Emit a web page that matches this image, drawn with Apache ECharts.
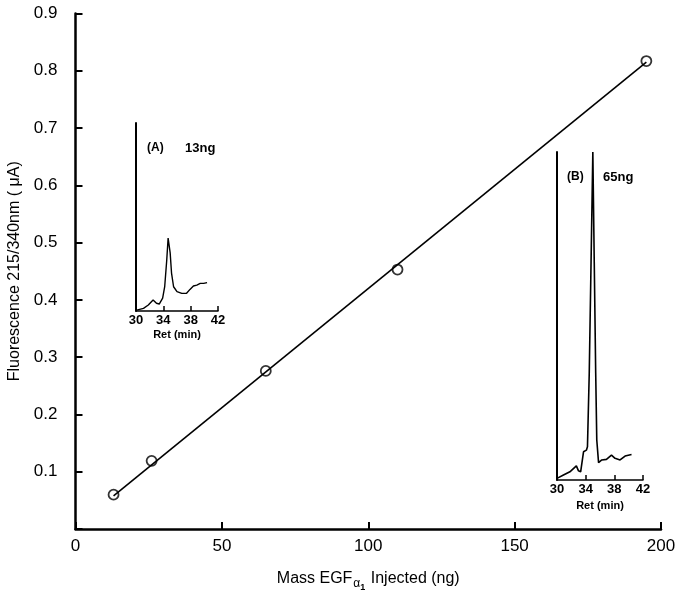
<!DOCTYPE html>
<html>
<head>
<meta charset="utf-8">
<script src="https://cdn.jsdelivr.net/npm/echarts@6/dist/echarts.min.js"></script>
<style>
  html, body { margin: 0; padding: 0; background: #fff; }
  #main { width: 681px; height: 597px; }
</style>
</head>
<body>
<div id="main"></div>
<script>
// calibration points: mass injected (ng) vs fluorescence (uA)
var massNg = [13, 26, 65, 110, 195];
var fluor = [0.06, 0.119, 0.276, 0.453, 0.817];
// fitted line end points
var fitX = [13, 195];
var fitY = [0.058, 0.815];

// inset chromatograms, retention time (min) vs signal (arbitrary)
var retA = [30.1, 31.1, 31.8, 32.5, 33.0, 33.4, 33.9, 34.2, 34.5, 34.7, 35.0, 35.2, 35.5, 36.0, 36.7, 37.4, 37.9, 38.4, 38.9, 39.4, 39.9, 40.4];
var sigA = [0.5, 1.4, 3.2, 5.9, 4.1, 3.7, 6.8, 12.9, 27.1, 38.8, 30.9, 20.2, 12.9, 10.3, 9.4, 9.4, 11.5, 13.3, 13.8, 14.7, 14.7, 15.1];
var retB = [30.0, 30.9, 31.8, 32.7, 33.0, 33.3, 33.7, 34.1, 34.25, 34.5, 34.75, 35.0, 35.2, 35.4, 35.55, 35.8, 36.25, 36.9, 37.6, 38.1, 38.8, 39.5, 40.4];
var sigB = [0.5, 1.5, 2.5, 4.3, 2.8, 2.5, 8.6, 9.1, 10.1, 32.6, 66.1, 100, 66.1, 32.6, 12.2, 5.3, 6.1, 6.3, 7.6, 6.6, 6.1, 7.3, 7.8];

var font = 'Liberation Sans, Arial, sans-serif';

function pairs(xs, ys) {
  return xs.map(function (x, i) { return [x, ys[i]]; });
}

// small chromatogram axes
function insetX(gridIndex) {
  return {
    type: 'value', gridIndex: gridIndex, min: 30, max: 42, interval: 4,
    name: 'Ret (min)', nameLocation: 'middle', nameGap: 18,
    nameTextStyle: { fontFamily: font, fontWeight: 'bold', fontSize: 11, color: '#000' },
    axisLine: { show: true, lineStyle: { color: '#000', width: 1.5 } },
    axisTick: { show: true, inside: true, length: 5, lineStyle: { color: '#000', width: 1.5 } },
    axisLabel: { margin: 3, fontFamily: font, fontWeight: 'bold', fontSize: 13, color: '#000' },
    splitLine: { show: false }
  };
}
function insetY(gridIndex) {
  return {
    type: 'value', gridIndex: gridIndex, min: 0, max: 100,
    axisLine: { show: true, onZero: false, lineStyle: { color: '#000', width: 2 } },
    axisTick: { show: false },
    axisLabel: { show: false },
    splitLine: { show: false }
  };
}

var chart = echarts.init(document.getElementById('main'));
chart.setOption({
  backgroundColor: '#fff',
  animation: false,
  grid: [
    { left: 75.5, right: 20, top: 13.5, bottom: 68, containLabel: false, outerBoundsMode: 'none' },
    { left: 136, right: 463, top: 123, bottom: 286, containLabel: false, outerBoundsMode: 'none' },
    { left: 557, right: 38, top: 152, bottom: 117, containLabel: false, outerBoundsMode: 'none' }
  ],
  xAxis: [
    {
      type: 'value', gridIndex: 0, min: 0, max: 200, interval: 50,
      name: 'Mass EGF{a|α}{b|1} Injected (ng)',
      nameLocation: 'middle', nameGap: 36,
      nameTextStyle: {
        fontFamily: font, fontSize: 16, color: '#000',
        rich: {
          a: { fontFamily: font, fontSize: 12, color: '#000', padding: [10, 0, 0, 1] },
          b: { fontFamily: font, fontSize: 9, color: '#000', fontWeight: 'bold', padding: [18, 1, 0, 0] }
        }
      },
      axisLine: { show: true, onZero: false, lineStyle: { color: '#000', width: 2.5 } },
      axisTick: { show: true, inside: true, length: 7, lineStyle: { color: '#000', width: 2 } },
      axisLabel: { margin: 9, fontFamily: font, fontSize: 17, color: '#000' },
      splitLine: { show: false }
    },
    insetX(1),
    insetX(2)
  ],
  yAxis: [
    {
      type: 'value', gridIndex: 0, min: 0, max: 0.9, interval: 0.1,
      name: 'Fluorescence 215/340nm ( μA)',
      nameLocation: 'middle', nameGap: 47,
      nameTextStyle: { fontFamily: font, fontSize: 16, color: '#000' },
      axisLine: { show: true, onZero: false, lineStyle: { color: '#000', width: 2.5 } },
      axisTick: { show: true, inside: true, length: 7, lineStyle: { color: '#000', width: 2 } },
      axisLabel: {
        margin: 18, fontFamily: font, fontSize: 17, color: '#000',
        formatter: function (v) { return v === 0 ? '' : v.toFixed(1); }
      },
      splitLine: { show: false }
    },
    insetY(1),
    insetY(2)
  ],
  graphic: [
    { type: 'text', left: 147, top: 142, style: { text: '(A)', font: 'bold 12px ' + font, fill: '#000' } },
    { type: 'text', left: 185, top: 142, style: { text: '13ng', font: 'bold 13px ' + font, fill: '#000' } },
    { type: 'text', left: 567, top: 171, style: { text: '(B)', font: 'bold 12px ' + font, fill: '#000' } },
    { type: 'text', left: 603, top: 171, style: { text: '65ng', font: 'bold 13px ' + font, fill: '#000' } }
  ],
  series: [
    {
      type: 'line', xAxisIndex: 0, yAxisIndex: 0,
      data: pairs(fitX, fitY), symbol: 'none',
      lineStyle: { color: '#000', width: 1.6 }
    },
    {
      type: 'scatter', xAxisIndex: 0, yAxisIndex: 0,
      data: pairs(massNg, fluor), symbol: 'circle', symbolSize: 10,
      itemStyle: { color: '#fff', borderColor: '#000', borderWidth: 1.8 }
    },
    {
      type: 'line', xAxisIndex: 1, yAxisIndex: 1,
      data: pairs(retA, sigA), symbol: 'none',
      lineStyle: { color: '#000', width: 1.4 }
    },
    {
      type: 'line', xAxisIndex: 2, yAxisIndex: 2,
      data: pairs(retB, sigB), symbol: 'none',
      lineStyle: { color: '#000', width: 1.6 }
    }
  ]
});
</script>
</body>
</html>
